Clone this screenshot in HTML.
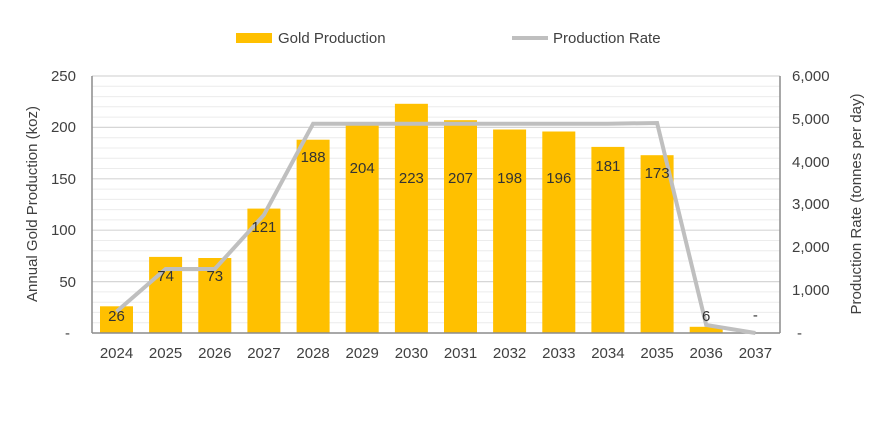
<!DOCTYPE html><html><head><style>body{margin:0;background:#fff}</style></head><body>
<svg width="880" height="422" viewBox="0 0 880 422" xmlns="http://www.w3.org/2000/svg" font-family="Liberation Sans, sans-serif" fill="#404040">
<g stroke="#ececec" stroke-width="1">
<line x1="92" x2="780" y1="86.3" y2="86.3"/><line x1="92" x2="780" y1="96.6" y2="96.6"/><line x1="92" x2="780" y1="106.8" y2="106.8"/><line x1="92" x2="780" y1="117.1" y2="117.1"/>
<line x1="92" x2="780" y1="137.7" y2="137.7"/><line x1="92" x2="780" y1="148" y2="148"/><line x1="92" x2="780" y1="158.2" y2="158.2"/><line x1="92" x2="780" y1="168.5" y2="168.5"/>
<line x1="92" x2="780" y1="189.1" y2="189.1"/><line x1="92" x2="780" y1="199.4" y2="199.4"/><line x1="92" x2="780" y1="209.6" y2="209.6"/><line x1="92" x2="780" y1="219.9" y2="219.9"/>
<line x1="92" x2="780" y1="240.5" y2="240.5"/><line x1="92" x2="780" y1="250.8" y2="250.8"/><line x1="92" x2="780" y1="261" y2="261"/><line x1="92" x2="780" y1="271.3" y2="271.3"/>
<line x1="92" x2="780" y1="291.9" y2="291.9"/><line x1="92" x2="780" y1="302.2" y2="302.2"/><line x1="92" x2="780" y1="312.4" y2="312.4"/><line x1="92" x2="780" y1="322.7" y2="322.7"/>
</g>
<g stroke="#d6d6d6" stroke-width="1.2">
<line x1="92" x2="780" y1="76" y2="76"/><line x1="92" x2="780" y1="127.4" y2="127.4"/><line x1="92" x2="780" y1="178.8" y2="178.8"/><line x1="92" x2="780" y1="230.2" y2="230.2"/><line x1="92" x2="780" y1="281.6" y2="281.6"/>
</g>
<g fill="#ffc000">
<rect x="100" y="306.3" width="33" height="26.7"/>
<rect x="149.1" y="256.9" width="33" height="76.1"/>
<rect x="198.3" y="258" width="33" height="75"/>
<rect x="247.4" y="208.6" width="33" height="124.4"/>
<rect x="296.6" y="139.7" width="33" height="193.3"/>
<rect x="345.7" y="123.3" width="33" height="209.7"/>
<rect x="394.9" y="103.8" width="33" height="229.2"/>
<rect x="444" y="120.2" width="33" height="212.8"/>
<rect x="493.1" y="129.5" width="33" height="203.5"/>
<rect x="542.3" y="131.5" width="33" height="201.5"/>
<rect x="591.4" y="146.9" width="33" height="186.1"/>
<rect x="640.6" y="155.2" width="33" height="177.8"/>
<rect x="689.7" y="326.8" width="33" height="6.2"/>
</g>
<g stroke="#8c8c8c" stroke-width="1.5"><line x1="92" y1="76" x2="92" y2="333"/><line x1="780" y1="76" x2="780" y2="333"/><line x1="92" y1="333" x2="780" y2="333"/></g>
<polyline fill="none" stroke="#bfbfbf" stroke-width="4" points="116.5,311.6 165.6,269 214.8,269 263.9,215 313.1,123.7 362.2,123.7 411.4,123.7 460.5,123.7 509.6,123.7 558.8,123.7 607.9,123.7 657.1,123 706.2,325 755.4,333"/>
<g font-size="15" text-anchor="middle" fill="#333">
<text x="116.5" y="321">26</text><text x="165.6" y="281">74</text><text x="214.8" y="281">73</text><text x="263.9" y="232">121</text><text x="313.1" y="162">188</text><text x="362.2" y="173">204</text><text x="411.4" y="183">223</text><text x="460.5" y="183">207</text><text x="509.6" y="183">198</text><text x="558.8" y="183">196</text><text x="607.9" y="171">181</text><text x="657.1" y="178">173</text><text x="706.2" y="321">6</text><text x="755.4" y="320">-</text>
</g>
<g font-size="15" text-anchor="middle">
<text x="116.5" y="358">2024</text><text x="165.6" y="358">2025</text><text x="214.8" y="358">2026</text><text x="263.9" y="358">2027</text><text x="313.1" y="358">2028</text><text x="362.2" y="358">2029</text><text x="411.4" y="358">2030</text><text x="460.5" y="358">2031</text><text x="509.6" y="358">2032</text><text x="558.8" y="358">2033</text><text x="607.9" y="358">2034</text><text x="657.1" y="358">2035</text><text x="706.2" y="358">2036</text><text x="755.4" y="358">2037</text>
</g>
<g font-size="15" text-anchor="end">
<text x="76" y="81">250</text><text x="76" y="132">200</text><text x="76" y="184">150</text><text x="76" y="235">100</text><text x="76" y="287">50</text><text x="70" y="338">-</text>
</g>
<g font-size="15" text-anchor="start">
<text x="792" y="81">6,000</text><text x="792" y="124">5,000</text><text x="792" y="167">4,000</text><text x="792" y="209">3,000</text><text x="792" y="252">2,000</text><text x="792" y="295">1,000</text><text x="797" y="338">-</text>
</g>
<text font-size="15" text-anchor="middle" transform="translate(37,204) rotate(-90)">Annual Gold Production (koz)</text>
<text font-size="15" text-anchor="middle" transform="translate(861,204) rotate(-90)">Production Rate (tonnes per day)</text>
<rect x="236" y="33" width="36" height="10" fill="#ffc000"/>
<text x="278" y="43" font-size="15">Gold Production</text>
<line x1="512" y1="38" x2="548" y2="38" stroke="#bfbfbf" stroke-width="4"/>
<text x="553" y="43" font-size="15">Production Rate</text>
</svg>
</body></html>
